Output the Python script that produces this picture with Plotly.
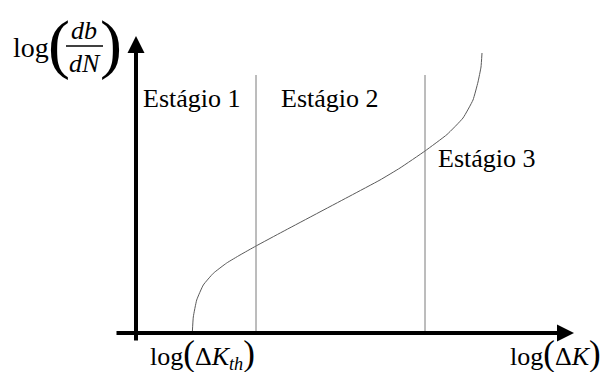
import plotly.graph_objects as go

# Crack growth curve (schematic): log(dK) vs log(db/dN)
log_dK = [5.63, 5.73, 6.07, 6.73, 7.73, 9.07, 10.4, 12.0, 14.7, 21.4, 24.4, 26.4,
          28.9, 31.1, 32.7, 33.7, 34.2, 34.5, 34.6]
log_dbdN = [0.0, 1.6, 3.3, 4.8, 5.97, 7.0, 7.8, 8.7, 10.15, 13.7, 15.3, 16.5,
            18.2, 19.85, 21.5, 23.3, 25.1, 26.6, 28.0]

# Stage boundaries and their height
stage_bounds = [12.0, 28.9]
bound_top = 25.8

# Stage labels
stage_labels = ["Estágio 1", "Estágio 2", "Estágio 3"]
stage_x = [5.55, 19.4, 35.05]
stage_y = [23.5, 23.5, 17.5]

# Axis extents
x_axis_start, x_axis_end = -2.1, 43.8
y_axis_start, y_axis_end = -0.9, 29.7

SERIF = "Liberation Serif, serif"

fig = go.Figure()

fig.add_trace(go.Scatter(
    x=log_dK, y=log_dbdN, mode="lines",
    line=dict(color="#5a5a5a", width=1, shape="spline", smoothing=0.4),
    hoverinfo="skip", showlegend=False,
))

for xb in stage_bounds:
    fig.add_trace(go.Scatter(
        x=[xb, xb], y=[0, bound_top], mode="lines",
        line=dict(color="#7a7a7a", width=1),
        hoverinfo="skip", showlegend=False,
    ))

annotations = []

# Axes drawn as arrows
annotations.append(dict(
    x=x_axis_end, y=0, ax=x_axis_start, ay=0, xref="x", yref="y", axref="x", ayref="y",
    text="", showarrow=True, arrowhead=2, arrowwidth=4, arrowsize=0.85, arrowcolor="black",
))
annotations.append(dict(
    x=0, y=y_axis_end, ax=0, ay=y_axis_start, xref="x", yref="y", axref="x", ayref="y",
    text="", showarrow=True, arrowhead=2, arrowwidth=4, arrowsize=0.85, arrowcolor="black",
))

for lbl, sx, sy in zip(stage_labels, stage_x, stage_y):
    annotations.append(dict(
        x=sx, y=sy, xref="x", yref="y", text=lbl, showarrow=False,
        font=dict(family=SERIF, size=26, color="black"),
        xanchor="center", yanchor="middle",
    ))

# x-axis labels
annotations.append(dict(
    x=6.6, y=-2.05, xref="x", yref="y",
    text="log<span style='font-size:35px'>(</span>Δ<i>K</i><sub><i>th</i></sub><span style='font-size:35px'>)</span>",
    showarrow=False, font=dict(family=SERIF, size=26, color="black"),
    xanchor="center", yanchor="middle",
))
annotations.append(dict(
    x=41.9, y=-2.05, xref="x", yref="y",
    text="log<span style='font-size:35px'>(</span>Δ<i>K</i><span style='font-size:35px'>)</span>",
    showarrow=False, font=dict(family=SERIF, size=26, color="black"),
    xanchor="center", yanchor="middle",
))

# y-axis label: log( db/dN )
annotations.append(dict(
    x=-10.55, y=28.6, xref="x", yref="y", text="log", showarrow=False,
    font=dict(family=SERIF, size=28, color="black"), xanchor="center", yanchor="middle",
))
annotations.append(dict(
    x=-7.75, y=28.9, xref="x", yref="y", text="(", showarrow=False,
    font=dict(family=SERIF, size=66, color="black"), xanchor="center", yanchor="middle",
))
annotations.append(dict(
    x=-2.5, y=28.9, xref="x", yref="y", text=")", showarrow=False,
    font=dict(family=SERIF, size=66, color="black"), xanchor="center", yanchor="middle",
))
annotations.append(dict(
    x=-5.2, y=30.3, xref="x", yref="y", text="<i>db</i>", showarrow=False,
    font=dict(family=SERIF, size=26, color="black"), xanchor="center", yanchor="middle",
))
annotations.append(dict(
    x=-5.1, y=27.0, xref="x", yref="y", text="<i>dN</i>", showarrow=False,
    font=dict(family=SERIF, size=26, color="black"), xanchor="center", yanchor="middle",
))

fig.add_shape(type="line", x0=-7.0, x1=-3.3, y0=28.7, y1=28.7, xref="x", yref="y",
              line=dict(color="black", width=1.3))

fig.update_layout(
    width=607, height=372,
    margin=dict(l=0, r=0, t=0, b=0),
    paper_bgcolor="white", plot_bgcolor="white",
    font=dict(family=SERIF),
    xaxis=dict(range=[-13.6, 47.1], visible=False, fixedrange=True),
    yaxis=dict(range=[-3.9, 33.3], visible=False, fixedrange=True),
    annotations=annotations,
    showlegend=False,
)

fig.write_html("out.html")
